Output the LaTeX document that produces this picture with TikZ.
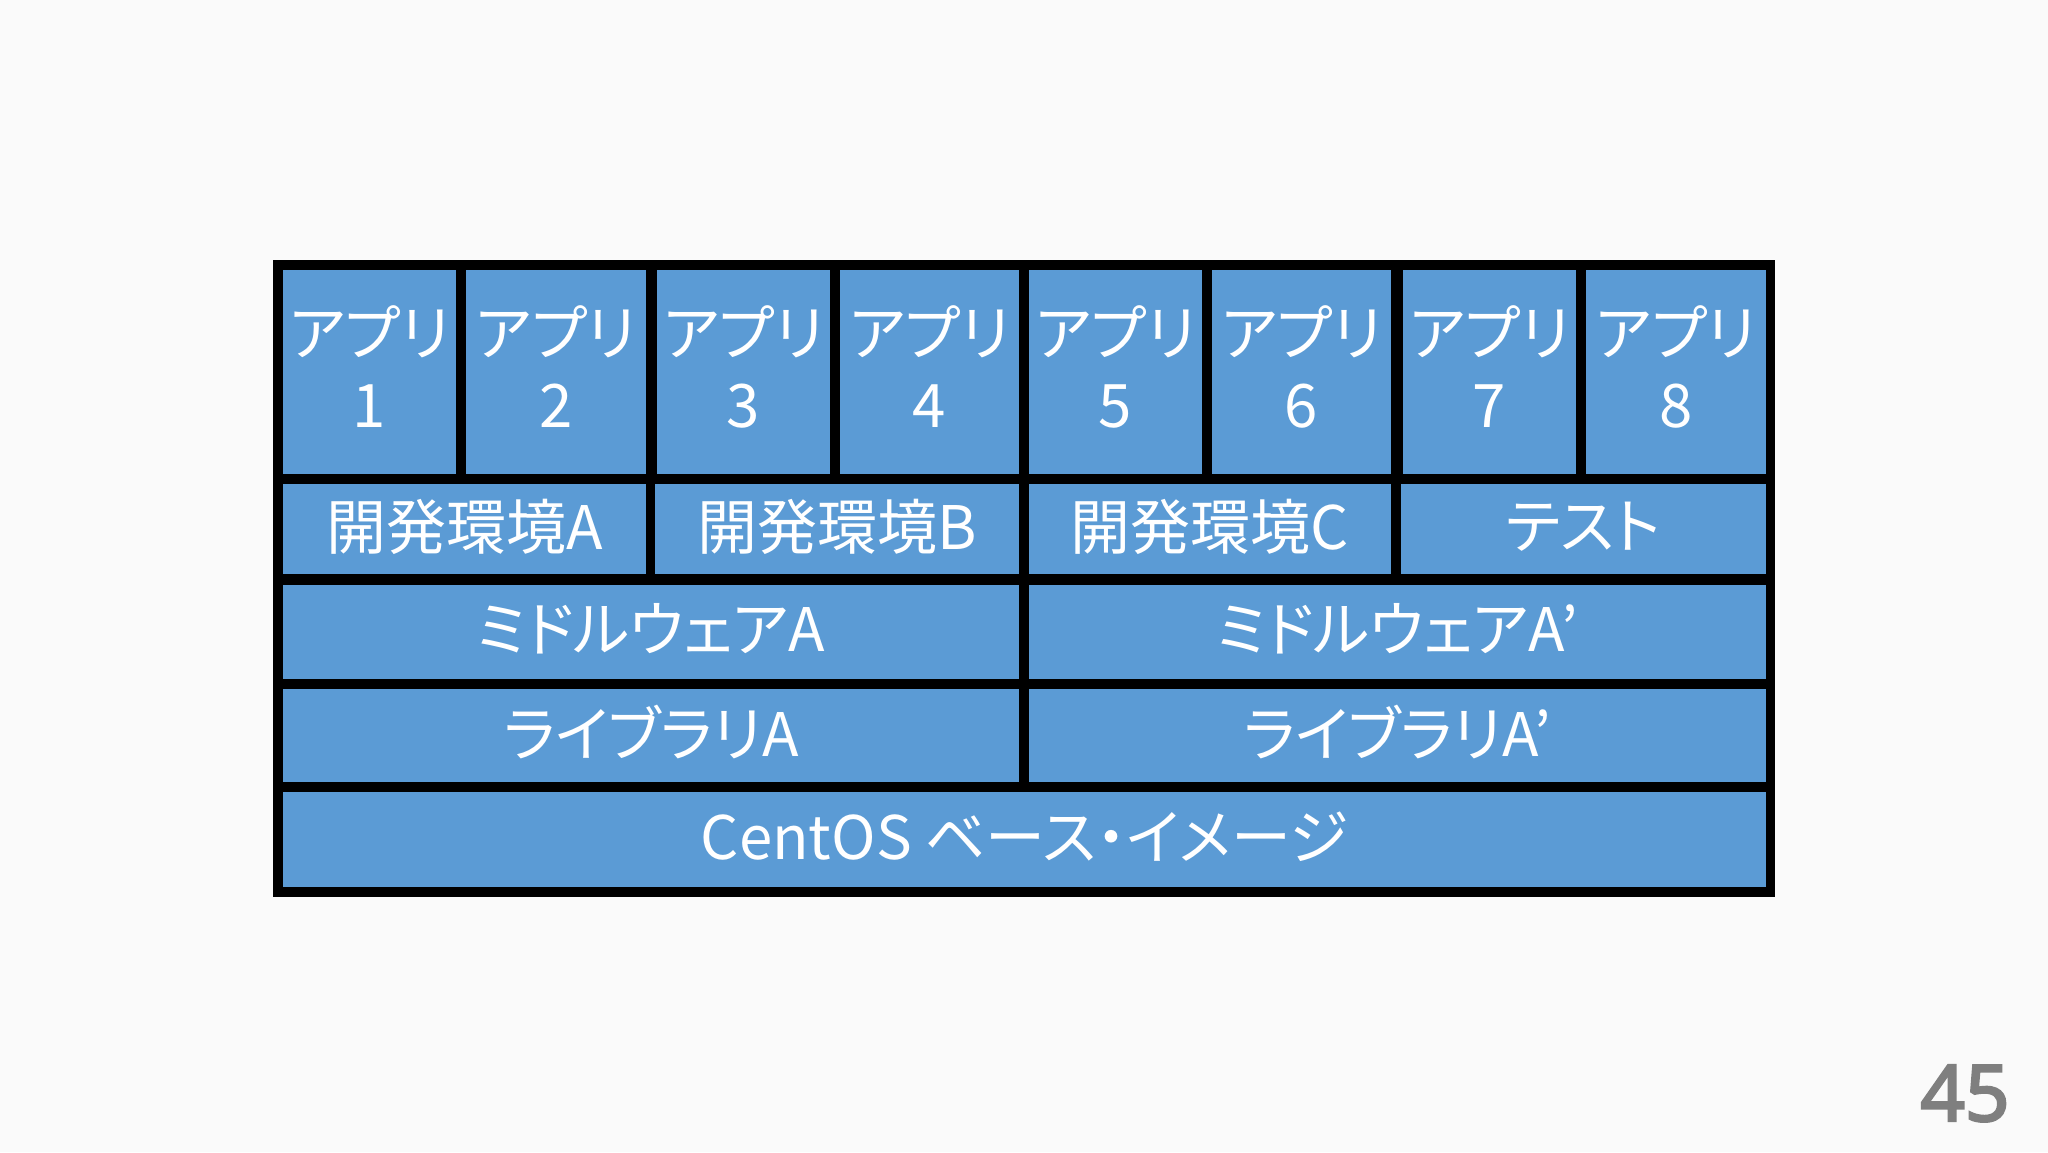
\documentclass[tikz,border=0pt]{standalone}
\usepackage{fontspec}
\newfontfamily\jpfont[RawFeature=+palt]{Noto Sans CJK JP}
\newfontfamily\numfont[FakeBold=3]{Noto Sans}
\definecolor{cellblue}{HTML}{5B9BD5}
\definecolor{bgc}{HTML}{FAFAFA}
\definecolor{pagenum}{HTML}{7F7F7F}
% #1 name, #2 x1, #3 y1, #4 x2, #5 y2, #6 text, #7 text shift (px, upward)
\newcommand\mycell[7]{%
  \node[cell, minimum width={(#4-#2)*0.5pt}, minimum height={(#5-#3)*0.5pt}] (#1) at ({(#2+#4)/2},{(#3+#5)/2}) {};
  \node[celltext] (#1-t) at ([yshift={#7*0.5pt}]#1.center) {#6};}
\begin{document}
\begin{tikzpicture}[x=0.5pt,y=-0.5pt,
  cell/.style={fill=cellblue, draw=none, inner sep=0pt},
  celltext/.style={text=white, font=\jpfont\fontsize{30}{36}\selectfont, align=center, inner sep=0pt}]
\useasboundingbox (0,0) rectangle (2048,1152);
\fill[bgc] (0,0) rectangle (2048,1152);
\fill[black] (273,260) rectangle (1775,897);
% row 1
\mycell{app1}{283}{270}{456}{474}{アプリ\\1}{5}
\mycell{app2}{466}{270}{646}{474}{アプリ\\2}{5}
\mycell{app3}{657}{270}{830}{474}{アプリ\\3}{5}
\mycell{app4}{840}{270}{1019}{474}{アプリ\\4}{5}
\mycell{app5}{1029}{270}{1202}{474}{アプリ\\5}{5}
\mycell{app6}{1212}{270}{1391}{474}{アプリ\\6}{5}
\mycell{app7}{1403}{270}{1576}{474}{アプリ\\7}{5}
\mycell{app8}{1586}{270}{1766}{474}{アプリ\\8}{5}
% row 2
\mycell{devA}{283}{484}{646}{574}{開発環境A}{2}
\mycell{devB}{655}{484}{1019}{574}{開発環境B}{2}
\mycell{devC}{1029}{484}{1391}{574}{開発環境C}{2}
\mycell{test}{1401}{484}{1766}{574}{テスト}{2}
% row 3
\mycell{mwA}{283}{585}{1019}{679}{ミドルウェアA}{3}
\mycell{mwB}{1029}{585}{1766}{679}{ミドルウェアA’}{3}
% row 4
\mycell{libA}{283}{689}{1019}{782}{ライブラリA}{3}
\mycell{libB}{1029}{689}{1766}{782}{ライブラリA’}{3}
% row 5
\mycell{base}{283}{792}{1766}{887}{CentOS ベース・イメージ}{3}
% page number
\node[font=\numfont\fontsize{39}{39}\selectfont, text=pagenum, anchor=base east, inner sep=0pt] (pnum) at (2010,1121) {45};
\end{tikzpicture}
\end{document}
